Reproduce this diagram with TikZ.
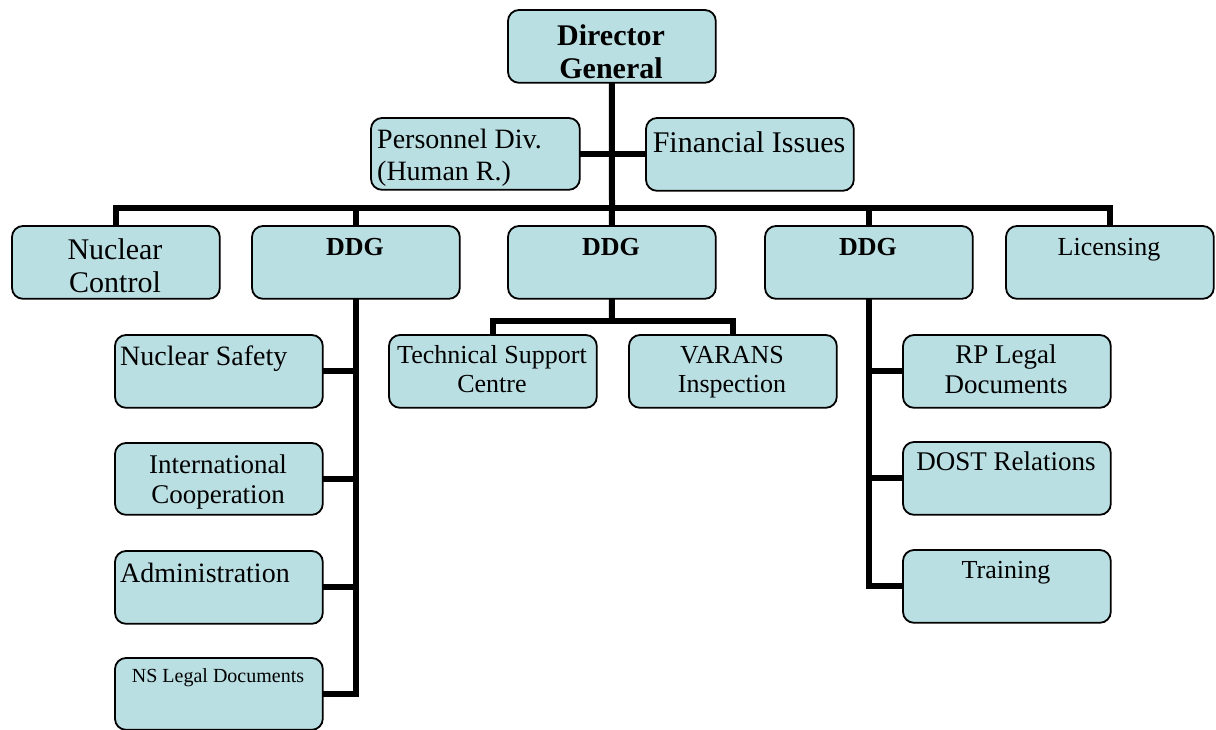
\documentclass[tikz,border=0pt]{standalone}
\usepackage{fontspec}
\setmainfont{Liberation Serif}
\definecolor{boxfill}{RGB}{186,223,227}
\tikzset{
  box/.style={draw=black, line width=1.8pt, rounded corners=11pt, fill=boxfill,
    minimum width=206pt, minimum height=71pt, inner sep=0pt, anchor=north west},
  txt/.style={inner sep=0pt, align=center, anchor=base},
  ltxt/.style={inner sep=0pt, align=left, anchor=base west},
  conn/.style={line width=6pt, black, line join=miter},
  fA/.style={font=\fontsize{30}{33}\selectfont},
  fB/.style={font=\fontsize{28}{32}\selectfont},
  fC/.style={font=\fontsize{26}{29}\selectfont},
  fE/.style={font=\fontsize{27}{30}\selectfont},
  fD/.style={font=\fontsize{20}{24}\selectfont},
  fBold/.style={font=\fontsize{30}{33}\selectfont\bfseries},
  fDDG/.style={font=\fontsize{26}{30}\selectfont\bfseries},
}
\begin{document}
\begin{tikzpicture}[x=1pt, y=-1pt]
\fill[white] (0,0) rectangle (1216,729);
\useasboundingbox (0,0) rectangle (1216,729);

% junction points of the connector lines
\coordinate (bus) at (612,208);
\coordinate (cj) at (612,321);

% boxes (placed first so the connectors can refer to them)
\node[box] (dg) at (508,10) {};
\node[box, minimum width=207pt, minimum height=70pt] (pers) at (371,118) {};
\node[box] (fin) at (646,118) {};
\node[box] (nc) at (12,226) {};
\node[box] (ddgL) at (252,226) {};
\node[box] (ddgC) at (508,226) {};
\node[box] (ddgR) at (765,226) {};
\node[box] (lic) at (1006,226) {};
\node[box] (tsc) at (389,335) {};
\node[box] (var) at (629,335) {};
\node[box] (ns) at (115,335) {};
\node[box, minimum height=70pt] (ic) at (115,443) {};
\node[box] (adm) at (115,551) {};
\node[box, minimum height=70pt] (nsl) at (115,658) {};
\node[box] (rpl) at (903,335) {};
\node[box] (dost) at (903,442) {};
\node[box] (trn) at (903,550) {};

% top level
\draw[conn] (dg.south) -- (bus);
\draw[conn] (pers.east) -- (pers.east -| fin.west);
\draw[conn] (nc.north) |- (bus) -| (lic.north);
\draw[conn] (ddgL.north) -- (ddgL.north |- bus);
\draw[conn] (ddgC.north) -- (bus);
\draw[conn] (ddgR.north) -- (ddgR.north |- bus);

% left deputy
\draw[conn] (ddgL.south) |- (nsl.east);
\draw[conn] (ns.east) -- (ns.east -| ddgL.south);
\draw[conn] (ic.east) -- (ic.east -| ddgL.south);
\draw[conn] (adm.east) -- (adm.east -| ddgL.south);

% centre deputy
\draw[conn] (ddgC.south) -- (cj);
\draw[conn] (tsc.north) |- (cj) -| (var.north);

% right deputy
\draw[conn] (ddgR.south) |- (trn.west);
\draw[conn] (rpl.west) -- (rpl.west -| ddgR.south);
\draw[conn] (dost.west) -- (dost.west -| ddgR.south);

% redraw the boxes over the line ends
\foreach \b in {dg,pers,fin,nc,ddgL,ddgC,ddgR,lic,tsc,var,ns,ic,adm,nsl,rpl,dost,trn}{
  \draw[line width=1.8pt, rounded corners=11pt, fill=boxfill]
    (\b.north west) rectangle (\b.south east);
}

% labels (base = baseline of the last line)
\node[txt, fBold] (tdg) at (611,78) {Director\\General};
\node[ltxt, fB] (tpers) at (377,180) {Personnel Div.\\(Human R.)};
\node[txt, fA] (tfin) at (749,152) {Financial Issues};
\node[txt, fA] (tnc) at (115,292) {Nuclear\\Control};
\node[txt, fDDG] (tddgL) at (355,255) {DDG};
\node[txt, fDDG] (tddgC) at (611,255) {DDG};
\node[txt, fDDG] (tddgR) at (868,255) {DDG};
\node[txt, fC] (tlic) at (1109,255) {Licensing};
\node[txt, fC] (ttsc) at (492,392) {Technical Support\\Centre};
\node[txt, fC] (tvar) at (732,392) {VARANS\\Inspection};
\node[ltxt, fB] (tns) at (120,365) {Nuclear Safety};
\node[txt, fE] (tic) at (218,503) {International\\Cooperation};
\node[ltxt, fB] (tadm) at (120,582) {Administration};
\node[txt, fD] (tnsl) at (218,682) {NS Legal Documents};
\node[txt, fE] (trpl) at (1006,393) {RP Legal\\Documents};
\node[txt, fE] (tdost) at (1006,470) {DOST Relations};
\node[txt, fC] (ttrn) at (1006,578) {Training};
\end{tikzpicture}
\end{document}
